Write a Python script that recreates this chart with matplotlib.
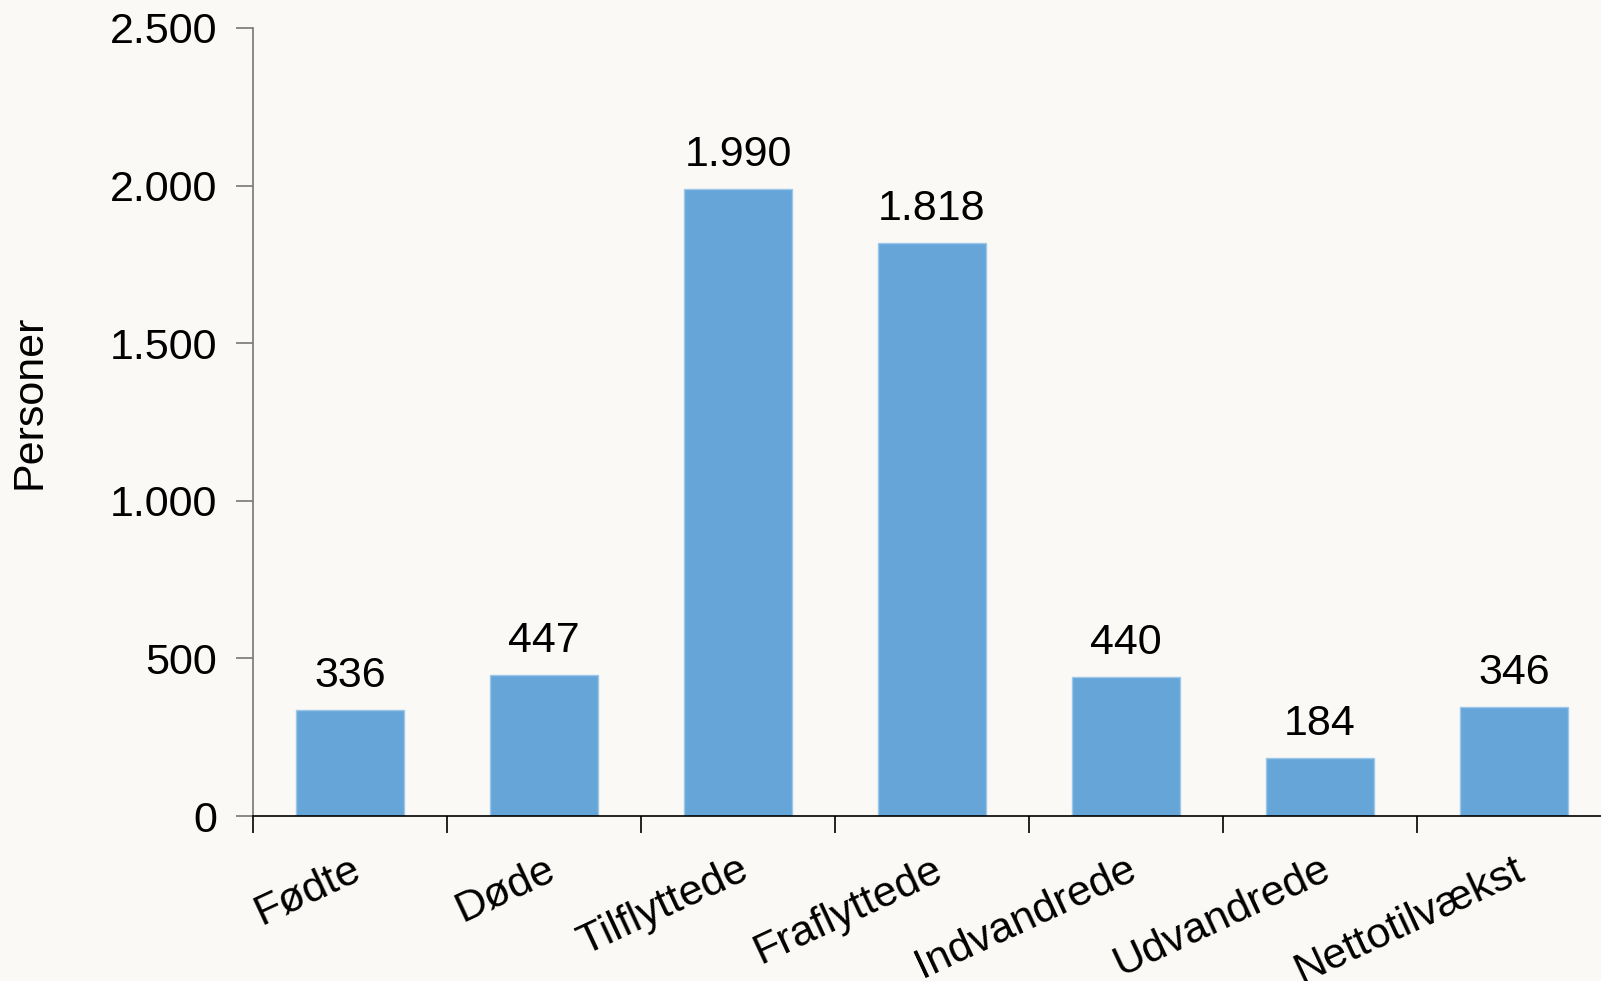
import matplotlib
matplotlib.use("Agg")
import matplotlib.pyplot as plt
from matplotlib.ticker import FuncFormatter

categories = ["Fødte", "Døde", "Tilflyttede", "Fraflyttede", "Indvandrede", "Udvandrede", "Nettotilvækst"]
values = [336, 447, 1990, 1818, 440, 184, 346]
y_ticks = [0, 500, 1000, 1500, 2000, 2500]

BG = "#FAF9F5"
BAR = "#65A5D8"
FS = 31


def dk(v):
    # Danish thousands separator
    return f"{int(v):,}".replace(",", ".")


plt.rcParams["font.family"] = ["Liberation Sans", "DejaVu Sans"]

W, H = 1601, 981
fig = plt.figure(figsize=(W / 100, H / 100), dpi=100, facecolor=BG)
ax = fig.add_axes([253 / W, 165 / H, 1358 / W, 788 / H], facecolor=BG)

x = list(range(len(categories)))
ax.bar(x, values, width=0.56, color=BAR, edgecolor="#9CC7EA", linewidth=1, zorder=2)

for xi, v in zip(x, values):
    ax.text(xi, v + 45, dk(v), ha="center", va="bottom", fontsize=FS, color="black")

ax.set_xlim(-0.5, len(categories) - 0.5)
ax.set_ylim(0, 2500)
ax.set_yticks(y_ticks)
ax.yaxis.set_major_formatter(FuncFormatter(lambda v, p: dk(v)))

ax.set_xticks([i + 0.5 for i in range(-1, len(categories))])
ax.set_xticklabels([])
ax.set_xticks(x, minor=True)
ax.set_xticklabels(categories, minor=True, rotation=25, ha="right", va="top",
                   rotation_mode="anchor", fontsize=FS)
ax.tick_params(axis="x", which="minor", length=0, pad=24)
ax.tick_params(axis="x", which="major", length=12, width=1.2, color="black")
ax.tick_params(axis="y", length=12, width=1.2, color="#777777", labelsize=FS, pad=14)

for s in ["top", "right"]:
    ax.spines[s].set_visible(False)
ax.spines["left"].set_color("#777777")
ax.spines["left"].set_linewidth(1.2)
ax.spines["bottom"].set_color("black")
ax.spines["bottom"].set_linewidth(1.2)

fig.text(29 / W, 0.59, "Personer", rotation=90, ha="center", va="center", fontsize=FS)

fig.savefig("out.png", dpi=100, facecolor=BG)
